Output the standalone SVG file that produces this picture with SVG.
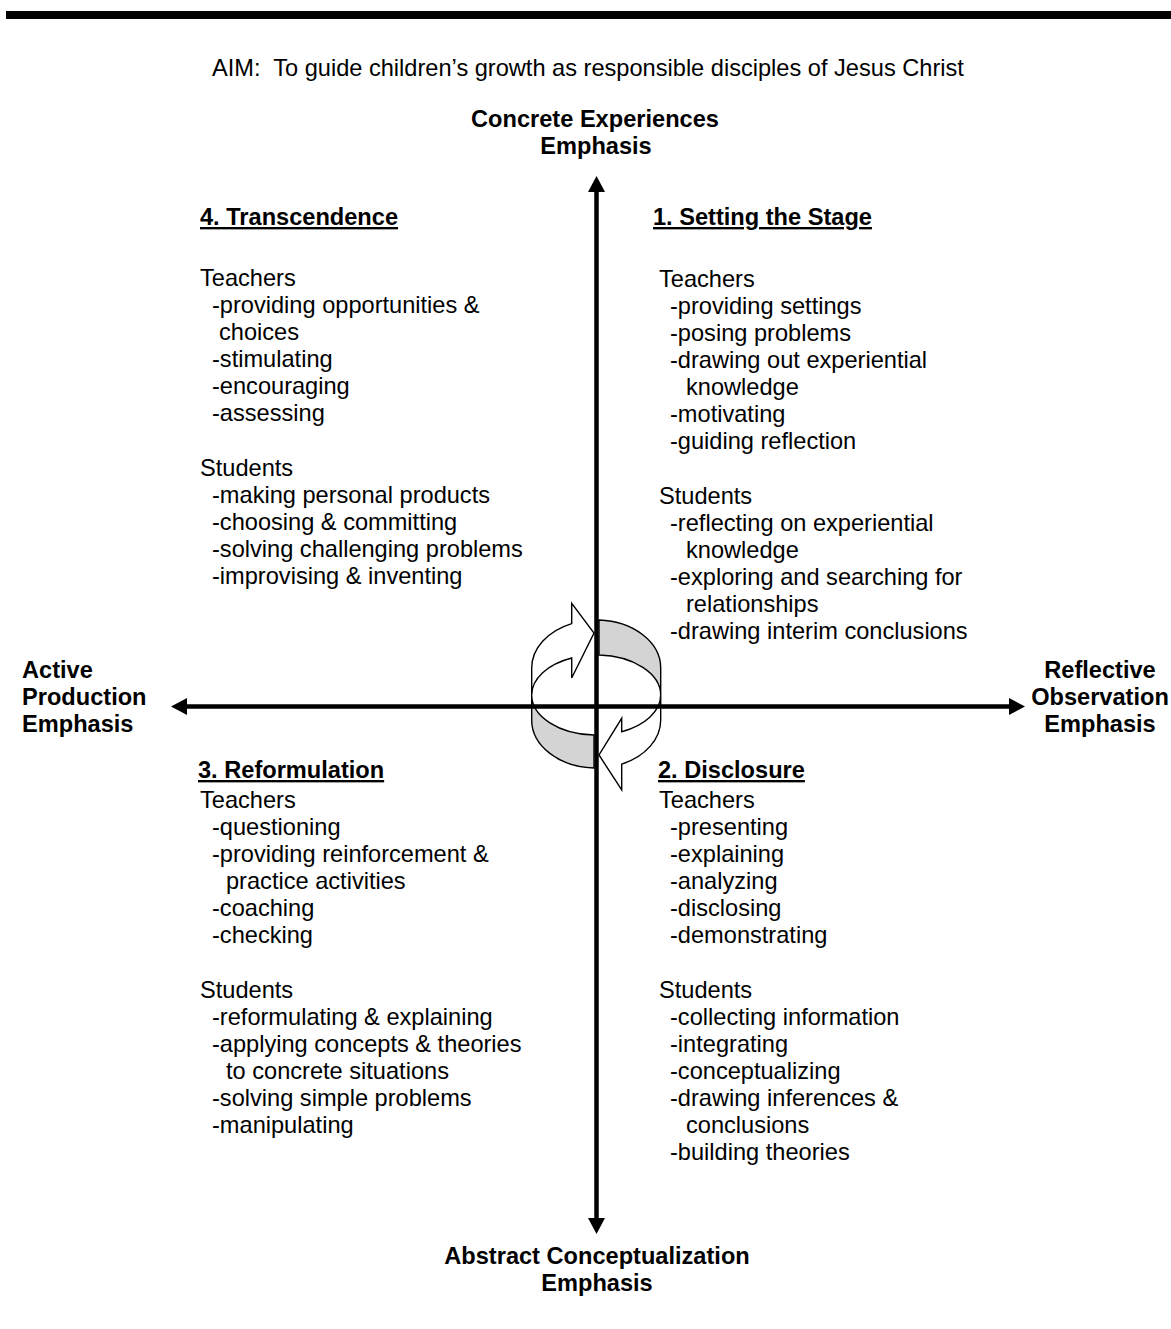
<svg xmlns="http://www.w3.org/2000/svg" width="1171" height="1329" viewBox="0 0 1171 1329">
  <style>
    text { font-family: "Liberation Sans", Arial, sans-serif; font-size: 23.6px; fill: #000; }
    .b { font-weight: bold; }
    .h { font-weight: bold; text-decoration: underline; }
    .mid { text-anchor: middle; }
    .axis { stroke: #000; stroke-width: 4.5; fill: none; marker-start: url(#head); marker-end: url(#head); }
    .ribbon { stroke: #000; stroke-width: 1.4; stroke-linejoin: miter; }
    .front { fill: #fff; }
    .back { fill: #d4d4d4; }
  </style>
  <defs>
    <marker id="head" markerUnits="userSpaceOnUse" viewBox="0 0 16 17" markerWidth="16" markerHeight="17" refX="1" refY="8.5" orient="auto-start-reverse">
      <path d="M0,0 L16,8.5 L0,17 Z" fill="#000"/>
    </marker>
  </defs>

  <!-- page rule and aim -->
  <rect x="6" y="11" width="1165" height="8" fill="#000"/>
  <text id="aim" x="212" y="76">AIM:&#160; To guide children’s growth as responsible disciples of Jesus Christ</text>

  <!-- learning cycle ribbon in the middle -->
  <g id="cycle" class="ribbon">
    <path class="back" d="M599,620.05 A64.5,48 0 0 1 660.7,668 L660.7,695 A64.5,40 0 0 0 599,655.04 Z"/>
    <path class="back" d="M531.7,695 L531.7,720 A64.5,48 0 0 0 594,767.98 L594,734.98 A64.5,40 0 0 1 531.7,695 Z"/>
    <path class="front" d="M531.7,695 L531.7,668 A64.5,48 0 0 1 571.7,623.6 L571.7,603.3 L594,633 L571.7,678 L571.7,658 A64.5,40 0 0 0 531.7,695 Z"/>
    <path class="front" d="M660.7,695 L660.7,720 A64.5,48 0 0 1 621.7,764.1 L621.7,790 L599,755 L621.7,718.3 L621.7,731.7 A64.5,40 0 0 0 660.7,695 Z"/>
  </g>

  <!-- axes -->
  <g id="connectors">
    <line class="axis" x1="596.5" y1="191" x2="596.5" y2="1219"/>
    <line class="axis" x1="186" y1="706.5" x2="1010" y2="706.5"/>
  </g>

  <!-- axis labels -->
  <g id="label-top">
    <text class="b mid" x="595" y="127">Concrete Experiences</text>
    <text class="b mid" x="596" y="154">Emphasis</text>
  </g>
  <g id="label-bottom">
    <text class="b mid" x="597" y="1264">Abstract Conceptualization</text>
    <text class="b mid" x="597" y="1291">Emphasis</text>
  </g>
  <g id="label-left">
    <text class="b" x="22" y="678">Active</text>
    <text class="b" x="22" y="705">Production</text>
    <text class="b" x="22" y="732">Emphasis</text>
  </g>
  <g id="label-right">
    <text class="b mid" x="1100" y="678">Reflective</text>
    <text class="b mid" x="1100" y="705">Observation</text>
    <text class="b mid" x="1100" y="732">Emphasis</text>
  </g>

  <!-- quadrant 1 -->
  <g id="q1-setting-the-stage">
    <text class="h" x="653" y="225">1. Setting the Stage</text>
    <text>
      <tspan x="659" y="287">Teachers</tspan>
      <tspan x="670" y="314">-providing settings</tspan>
      <tspan x="670" y="341">-posing problems</tspan>
      <tspan x="670" y="368">-drawing out experiential</tspan>
      <tspan x="686" y="395">knowledge</tspan>
      <tspan x="670" y="422">-motivating</tspan>
      <tspan x="670" y="449">-guiding reflection</tspan>
      <tspan x="659" y="504">Students</tspan>
      <tspan x="670" y="531">-reflecting on experiential</tspan>
      <tspan x="686" y="558">knowledge</tspan>
      <tspan x="670" y="585">-exploring and searching for</tspan>
      <tspan x="686" y="612">relationships</tspan>
      <tspan x="670" y="639">-drawing interim conclusions</tspan>
    </text>
  </g>

  <!-- quadrant 2 -->
  <g id="q2-disclosure">
    <text class="h" x="658" y="778">2. Disclosure</text>
    <text>
      <tspan x="659" y="808">Teachers</tspan>
      <tspan x="670" y="835">-presenting</tspan>
      <tspan x="670" y="862">-explaining</tspan>
      <tspan x="670" y="889">-analyzing</tspan>
      <tspan x="670" y="916">-disclosing</tspan>
      <tspan x="670" y="943">-demonstrating</tspan>
      <tspan x="659" y="998">Students</tspan>
      <tspan x="670" y="1025">-collecting information</tspan>
      <tspan x="670" y="1052">-integrating</tspan>
      <tspan x="670" y="1079">-conceptualizing</tspan>
      <tspan x="670" y="1106">-drawing inferences &amp;</tspan>
      <tspan x="686" y="1133">conclusions</tspan>
      <tspan x="670" y="1160">-building theories</tspan>
    </text>
  </g>

  <!-- quadrant 3 -->
  <g id="q3-reformulation">
    <text class="h" x="198" y="778">3. Reformulation</text>
    <text>
      <tspan x="200" y="808">Teachers</tspan>
      <tspan x="212" y="835">-questioning</tspan>
      <tspan x="212" y="862">-providing reinforcement &amp;</tspan>
      <tspan x="226" y="889">practice activities</tspan>
      <tspan x="212" y="916">-coaching</tspan>
      <tspan x="212" y="943">-checking</tspan>
      <tspan x="200" y="998">Students</tspan>
      <tspan x="212" y="1025">-reformulating &amp; explaining</tspan>
      <tspan x="212" y="1052">-applying concepts &amp; theories</tspan>
      <tspan x="226" y="1079">to concrete situations</tspan>
      <tspan x="212" y="1106">-solving simple problems</tspan>
      <tspan x="212" y="1133">-manipulating</tspan>
    </text>
  </g>

  <!-- quadrant 4 -->
  <g id="q4-transcendence">
    <text class="h" x="200" y="225">4. Transcendence</text>
    <text>
      <tspan x="200" y="286">Teachers</tspan>
      <tspan x="212" y="313">-providing opportunities &amp;</tspan>
      <tspan x="219" y="340">choices</tspan>
      <tspan x="212" y="367">-stimulating</tspan>
      <tspan x="212" y="394">-encouraging</tspan>
      <tspan x="212" y="421">-assessing</tspan>
      <tspan x="200" y="476">Students</tspan>
      <tspan x="212" y="503">-making personal products</tspan>
      <tspan x="212" y="530">-choosing &amp; committing</tspan>
      <tspan x="212" y="557">-solving challenging problems</tspan>
      <tspan x="212" y="584">-improvising &amp; inventing</tspan>
    </text>
  </g>
</svg>
